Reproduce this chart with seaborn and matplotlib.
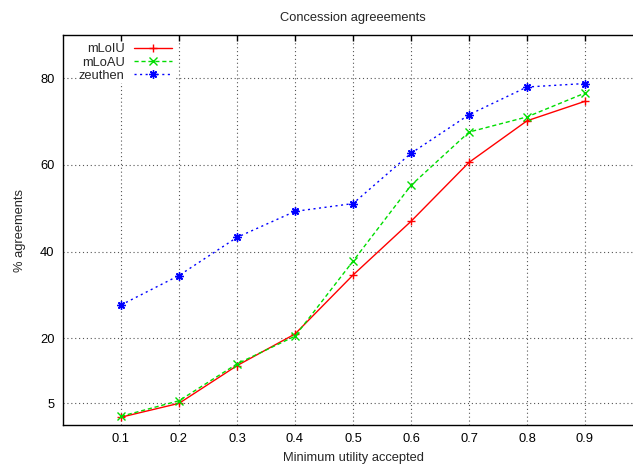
import numpy as np
import pandas as pd
import matplotlib
matplotlib.use("Agg")
import matplotlib.pyplot as plt
import seaborn as sns

x_vals = [0.1, 0.2, 0.3, 0.4, 0.5, 0.6, 0.7, 0.8, 0.9]
mloiu = [1.8, 5.0, 13.7, 21.0, 34.6, 47.0, 60.6, 70.2, 74.7]
mloau = [2.0, 5.6, 14.1, 20.5, 37.8, 55.3, 67.6, 71.1, 76.6]
zeuthen = [27.7, 34.5, 43.3, 49.3, 51.1, 62.7, 71.6, 78.0, 78.8]
series_names = ["mLoIU", "mLoAU", "zeuthen"]
yticks = [5, 20, 40, 60, 80]
xticks = [0.1, 0.2, 0.3, 0.4, 0.5, 0.6, 0.7, 0.8, 0.9]

df = pd.DataFrame({
    "x": x_vals * 3,
    "y": mloiu + mloau + zeuthen,
    "series": [series_names[0]] * 9 + [series_names[1]] * 9 + [series_names[2]] * 9,
})

sns.set_theme(style="white")
plt.rcParams["font.family"] = ["Liberation Sans", "DejaVu Sans"]
FS = 9.3

fig = plt.figure(figsize=(6.33, 4.68), dpi=100)
ax = fig.add_axes([63 / 633, (468 - 425) / 468, 580 / 633, 390 / 468])

palette = {"mLoIU": "#ff0000", "mLoAU": "#00dd00", "zeuthen": "#0000ff"}
dashes = {"mLoIU": "", "mLoAU": (3, 2), "zeuthen": (1.5, 2.5)}
markers = {"mLoIU": "+", "mLoAU": "x", "zeuthen": (8, 2, 0)}

sns.lineplot(data=df, x="x", y="y", hue="series", style="series",
             palette=palette, dashes=dashes, markers=markers,
             linewidth=1.0, markersize=6, markeredgewidth=1.0, ax=ax, legend=True)

for ln in ax.lines:
    ln.set_markeredgecolor(ln.get_color())
    ln.set_markerfacecolor(ln.get_color())

ax.set_xlim(0, 1.0)
ax.set_ylim(0, 90)
ax.set_xticks(xticks)
ax.set_xticklabels([f"{v:.1f}" for v in xticks])
ax.set_yticks(yticks)
ax.set_yticklabels([str(v) for v in yticks])
ax.grid(True, color="#555555", linestyle=(0, (1, 2.5)), linewidth=0.8)
ax.tick_params(direction="in", top=True, right=True, length=4, width=1,
               labelsize=FS, pad=6, colors="black")
for s in ax.spines.values():
    s.set_color("black")
    s.set_linewidth(1.0)

ax.set_xlabel("Minimum utility accepted", fontsize=FS, labelpad=5)
ax.set_ylabel("% agreements", fontsize=FS, labelpad=10)
ax.set_title("Concession agreeements", fontsize=FS, pad=10)

leg = ax.legend(loc="upper left", bbox_to_anchor=(0.025, 0.982), markerfirst=False,
                frameon=True, fontsize=FS, handlelength=3.0, handletextpad=0.7,
                labelspacing=0.1, borderpad=0.1, borderaxespad=0)
leg.get_frame().set_facecolor("white")
leg.get_frame().set_edgecolor("none")
leg.get_frame().set_alpha(1.0)
for h in leg.legend_handles:
    h.set_markeredgecolor(h.get_color())
    h.set_markerfacecolor(h.get_color())

fig.savefig("out.png", dpi=100)
